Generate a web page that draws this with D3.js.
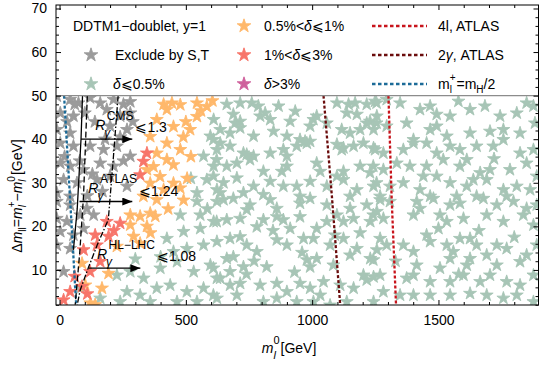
<!DOCTYPE html>
<html lang="en">
<head>
<meta charset="UTF-8">
<title>DDTM1 doublet</title>
<script src="https://d3js.org/d3.v7.min.js"></script>
<style>
body,html{margin:0;padding:0;background:#fff;}
text{font-family:"Liberation Sans",Arial,Helvetica,sans-serif;fill:#000;}
.tick text{font-size:14px;font-family:"Liberation Sans",Arial,sans-serif;}
.legend-text{font-size:14px;}
</style>
</head>
<body>
<script>
// ---- data (m_l^0 [GeV], delta m [GeV]) ----
var grayPts = [[-11,49.9],[42,49.1],[75,48.3],[121,49.5],[161,48.3],[214,49.1],[253,48],[280,48.6],
  [3,46],[55,45.3],[187,46.8],[240,45.3],[280,46],[290,44],[100,46],[140,44],[30,44],[60,48],
  [-11,42.2],[42,41.4],[200,43],[267,42.2],[240,40.5],[180,40],
  [3,39.1],[55,38.4],[121,38.4],[174,37.6],[227,38.4],[280,36.1],[20,36],[80,35],
  [3,34.5],[42,33.8],[95,33],[161,34.5],[214,33.8],[253,35],[130,32],
  [16,30.7],[69,30],[148,30.7],[200,31.5],[267,29.2],[170,28],[110,27],
  [-11,27.7],[42,26.9],[-11,25.7],[42,24.9],[108,24.1],[135,22.6],
  [-11,21.8],[29,21.1],[82,22.6],[3,18.8],[55,18],[95,19.5],[-11,15.7],[42,14.9],[16,9.6]];

var greenPts = [
  // 600-1250, upper half
  [662,48],[715,48.3],[761,48.3],[787,47.6],[867,47.6],[933,46.4],[1005,44.5],[1098,48.3],[1144,48],[1170,48.3],[1216,48],[1249,48.7],
  [688,45.7],[715,44.1],[794,45.3],[814,46],[834,44.5],[913,44.1],[1018,45.3],[992,43],[1058,43.7],[1137,46],[1177,45.7],[1229,44.1],[1256,45.3],
  [636,42.2],[675,41.4],[715,42.6],[768,40.7],[847,41.8],[900,40.7],[952,39.9],[979,39.1],[992,39.5],[1117,42.2],[1150,41.4],[1190,42.2],[1243,42.2],
  [609,39.9],[636,39.1],[675,38.4],[728,36.8],[768,36.1],[834,36.8],[886,37.6],[939,38.4],[1098,38.8],[1124,38],[1164,38.4],[1203,39.1],[1243,38],
  [622,35.3],[662,33.8],[702,34.5],[754,35.3],[807,32.6],[880,32.6],[900,33.8],[1018,34.5],[1032,32.6],[1098,31.5],[1124,32.6],[1190,33.8],[1229,32.3],
  [609,31.5],[649,30],[702,31.1],[768,29.2],[834,30.3],[886,29.2],[939,29.2],[992,30.3],[1058,29.2],[1124,30.7],[1177,28.4],[1243,29.2],
  [636,27.7],[728,27.7],[807,27.3],[952,26.9],[1150,26.9],
  [695,43.7],[741,36.5],[1117,37.6],[972,39.5],[1216,43.7],[900,36.1],
  // 600-1250, lower half
  [649,26.1],[688,26.4],[754,24.9],[741,23.8],[834,26.1],[860,24.1],[952,25.3],[992,26.4],[1058,24.9],[1098,22.6],[1150,24.1],[1216,24.9],[1256,23.4],
  [622,21.1],[662,21.5],[715,21.8],[781,19.9],[807,21.5],[860,22.2],[886,21.5],[952,22.2],[1018,19.5],[913,19.5],[1058,21.1],[1124,21.1],[1164,21.8],[1230,21.1],
  [675,17.2],[715,17.6],[741,15.7],[781,14.2],[860,16.9],[900,15.7],[966,17.2],[1005,17.2],[1071,15.7],[1124,17.2],[1177,14.9],[1230,12.6],[1256,14.6],
  [609,10.4],[662,12.6],[688,13],[675,9.6],[728,10.7],[820,10.7],[979,12.3],[992,10.7],[1018,12.6],[1084,11.1],[1150,13.4],[1203,8.8],[1243,8.4],
  [636,8.1],[675,6.5],[715,6.9],[794,6.5],[860,6.9],[900,5],[952,6.9],[992,5.8],[1045,7.3],[1032,4.2],[1111,6.5],[1164,5.8],[1216,7.7],
  [609,4.2],[702,4.2],[807,2.7],[860,3.5],[939,2.7],[1005,2.7],[1071,1.9],[1137,2.7],[1243,2.7],
  [740,9],[770,12],[930,9.5],[960,14],[845,19],[1090,18],[1190,18.5],
  // 1250-1900, upper half
  [1255,48.3],[1295,49.1],[1348,48.3],[1427,46.8],[1467,47.6],[1493,45.7],[1546,45.3],[1579,48.7],[1625,46.8],[1684,47.6],[1744,45.3],[1810,46],[1876,47.6],[1849,48.3],
  [1255,43.7],[1295,43],[1374,43.7],[1401,39.9],[1467,42.2],[1493,43],[1533,40.7],[1625,41.4],[1704,41.8],[1757,42.2],[1823,41.4],[1882,43.7],
  [1249,37.6],[1282,36.8],[1361,37.6],[1401,39.1],[1453,39.1],[1493,36.8],[1546,38.4],[1585,37.6],[1651,38.4],[1717,38.4],[1757,39.9],[1823,36.8],[1876,37.6],
  [1242,33.8],[1282,33],[1335,34.5],[1387,33.8],[1453,33.8],[1519,35.3],[1585,33.8],[1612,35.3],[1665,32.3],[1704,33],[1783,33],[1849,34.5],[1889,31.5],
  [1255,30],[1308,29.2],[1361,30],[1427,28.4],[1493,31.5],[1546,30],[1612,29.2],[1638,30.7],[1691,30.7],[1757,28.4],[1810,29.2],[1863,28.4],
  [1269,26.9],[1467,26.9],[1572,26.9],[1651,26.9],[1770,26.9],
  // 1250-1900, lower half
  [1269,26.1],[1308,25.7],[1414,25.7],[1480,26.4],[1546,24.9],[1585,25.3],[1678,26.4],[1731,24.9],[1797,25.7],[1849,24.1],[1889,24.9],
  [1242,22.6],[1282,21.8],[1401,22.6],[1427,24.1],[1506,22.6],[1533,21.1],[1599,21.8],[1691,22.6],[1757,21.1],[1836,22.6],[1876,20.3],
  [1269,17.2],[1295,15.7],[1361,15.7],[1401,14.2],[1453,18],[1467,16.5],[1533,15.7],[1585,17.2],[1625,17.2],[1651,15.7],[1691,13.4],[1731,15.7],[1770,14.9],[1849,13.4],[1889,15.7],
  [1242,12.3],[1414,11.1],[1506,10.4],[1546,12.6],[1559,14.2],[1612,11.1],[1625,12.6],[1731,11.1],[1823,11.9],[1876,8.8],
  [1269,8.8],[1374,8.1],[1401,8.8],[1467,7.3],[1546,7.3],[1599,8.8],[1665,7.3],[1704,8.8],[1770,7.3],[1823,6.5],
  [1282,5],[1401,4.2],[1467,4.2],[1546,4.2],[1625,4.6],[1691,4.2],[1757,3.5],[1810,4.2],[1876,2.7],[1348,4.2],
  [1330,12],[1500,19.5],[1660,19],[1800,17.5],[1580,9],[1440,31.5],[1720,35.5],
  // 0-620
  [610,44.5],[597,40.7],[623,37.6],[570,36.1],[610,33.8],[583,30.7],[623,28.4],[544,27.7],
  [425,17.2],[491,18.8],[557,19.5],[610,21.1],[623,25.7],[544,25.7],[570,15.7],[504,14.9],[451,14.2],[623,16.5],
  [227,8.8],[280,9.6],[333,8.1],[399,10.4],[465,11.9],[531,9.6],[597,11.1],[623,8.1],
  [267,5],[319,4.2],[385,5.8],[438,6.5],[504,5],[570,5.8],[623,3.5],[82,5.8],[161,3.5],[240,2.7],[359,2.7],[465,2.7],[544,2.7],
  [478,22.6],[557,22.6],[520,31],[585,24],[400,13],[300,12.5]];

var orangePts = [[445,48.3],[478,47.9],[425,46.8],[544,48.3],[583,47.5],[605,48.8],[560,46.5],[412,48],[385,44.5],[451,42.9],
  [544,45.2],[517,42.2],[500,44],[359,40.6],[425,39.1],[478,37.6],[490,40.5],[385,36.8],[425,35.3],[451,34.1],[520,36],
  [372,33.7],[346,33],[398,31.4],[451,29.9],[478,28.8],[505,31],[359,29.9],[412,28.4],[332,26.9],[385,26.1],[491,26],
  [359,23],[280,22.6],[319,22.3],[379,22.3],[280,20.3],[346,20],[293,17.7],[319,16.1],[227,15.4],[89,11.5],[194,9.2],
  [168,5.8],[141,2],[102,6.5],[122,2.4],[430,24],[360,18.5]];

var redPts = [[346,36.8],[332,34.9],[319,31.8],[187,21.1],[240,20.7],[141,18],[194,17.7],[148,15.7],[95,14.6],[161,11.9],
  [121,9.6],[42,5],[16,3.1],[89,6.2],[60,8.5],[215,19],[110,4.5]];

var pinkPts = [];

// exclusion curves
var line4l = [[1302,50],[1315,26],[1332,2]];
var line2g = [[1045,50],[1078,27],[1111,2]];
var lineMh = [[18,50],[66,2]];
var lineCMS = [[91,50],[85,40],[70,24],[55,14.6]];
var lineATLAS = [[110,50],[95,27],[80,14],[62,2]];
var lineHL = [[232,50],[212,35],[193,21.5],[149,15.7],[114,10.5],[82,5.4],[70,2]];
var arrows = [[[85,40],[288,40]], [[79,25.7],[288,25.7]], [[115,10.4],[320,10.4]]];
// label anchors: "R" position and position of the bound value
var rLabels = [{pos:[141,42.2], valPos:[262,41.6], sup:"CMS", val:"1.3"},
               {pos:[114,27.7], valPos:[284,27.0], sup:"ATLAS", val:"1.24"},
               {pos:[148,12.6], valPos:[379,12.0], sup:"HL\u2212LHC", val:"1.08"}];

var xMajor = [0,500,1000,1500];
var yMajor = [10,20,30,40,50,60,70];

var W = 540, H = 366;
var margin = {top:5, right:1.5, bottom:61, left:56};

var svg = d3.select("body").append("svg").attr("width", W).attr("height", H);

var x = d3.scaleLinear().domain([-14, 1896]).range([margin.left, W - margin.right]);
var y = d3.scaleLinear().domain([1.95, 70.8]).range([H - margin.bottom, margin.top]);

var xMinor = d3.range(0, 1900, 100).filter(function(v){ return xMajor.indexOf(v) < 0; });
var yMinor = d3.range(2, 71, 2).filter(function(v){ return yMajor.indexOf(v) < 0; });

svg.append("clipPath").attr("id", "clip")
  .append("rect")
  .attr("x", x.range()[0]).attr("y", y(50))
  .attr("width", x.range()[1] - x.range()[0]).attr("height", y.range()[0] - y(50));

var plot = svg.append("g").attr("clip-path", "url(#clip)");

var star = d3.symbol().type(d3.symbolStar).size(52);

function stars(pts, color) {
  plot.append("g").selectAll("path").data(pts).enter().append("path")
    .attr("d", star)
    .attr("transform", function(d){ return "translate(" + x(d[0]) + "," + y(d[1]) + ")"; })
    .attr("fill", color).attr("stroke", color).attr("stroke-width", 0.9).attr("stroke-linejoin", "round");
}
stars(grayPts, "#9b9b9b");
stars(greenPts, "#a7c5b6");
stars(orangePts, "#ffb86b");
stars(redPts, "#f7756a");
stars(pinkPts, "#cf609c");

var line = d3.line().x(function(d){ return x(d[0]); }).y(function(d){ return y(d[1]); });

function curve(pts, color, dash, w) {
  plot.append("path").datum(pts).attr("d", line)
    .attr("fill", "none").attr("stroke", color).attr("stroke-width", w)
    .attr("stroke-dasharray", dash);
}
curve(line2g, "#6b0c0c", "3,2", 2.3);
curve(line4l, "#c8141c", "3,2", 2.3);
curve(lineMh, "#1c6b98", "3,2", 2.3);
curve(lineCMS, "#000", null, 1.3);
curve(lineATLAS, "#000", "6,3", 1.3);
curve(lineHL, "#000", "6,2,1.5,2", 1.3);

svg.append("defs").append("marker").attr("id", "arrow")
  .attr("viewBox", "0 0 10 8").attr("refX", 10).attr("refY", 4)
  .attr("markerWidth", 10).attr("markerHeight", 8).attr("markerUnits", "userSpaceOnUse")
  .attr("orient", "auto")
  .append("path").attr("d", "M0,0L10,4L0,8Z").attr("fill", "#000");

svg.append("g").selectAll("line").data(arrows).enter().append("line")
  .attr("x1", function(d){ return x(d[0][0]); }).attr("y1", function(d){ return y(d[0][1]); })
  .attr("x2", function(d){ return x(d[1][0]); }).attr("y2", function(d){ return y(d[1][1]); })
  .attr("stroke", "#000").attr("stroke-width", 1.3).attr("marker-end", "url(#arrow)");

// R_gamma labels
rLabels.forEach(function(l){
  var x0 = x(l.pos[0]), y0 = y(l.pos[1]);
  var g = svg.append("g");
  var r = g.append("text").attr("x", x0).attr("y", y0).style("font-size", "14px").style("font-style", "italic").text("R");
  var rw = r.node().getComputedTextLength();
  var s = g.append("text").attr("x", x0 + rw + 1.5).attr("y", y0 - 10).style("font-size", "12px").text(l.sup);
  g.append("text").attr("x", x0 + rw - 1).attr("y", y0 + 7).style("font-size", "12px").style("font-style", "italic").text("\u03b3");
  var supEnd = x0 + rw + 1.5 + s.node().getComputedTextLength();
  g.append("text").attr("x", Math.max(x(l.valPos[0]), supEnd + 2)).attr("y", y(l.valPos[1]))
    .style("font-size", "14px").text("\u2a7d" + l.val);
});

// separator at 50
svg.append("line").attr("x1", x.range()[0]).attr("x2", x.range()[1]).attr("y1", y(50)).attr("y2", y(50))
  .attr("stroke", "#8c8c8c").attr("stroke-width", 1.4);

// axes with inward ticks on all sides
function axis(gen, transform, size, labels, pad) {
  var g = svg.append("g").attr("transform", transform)
    .call(gen.tickSize(size).tickPadding(pad || 3));
  g.select(".domain").remove();
  g.selectAll(".tick line").attr("stroke", "#000");
  if (!labels) g.selectAll(".tick text").remove();
  return g;
}
var bottomY = y.range()[0], topY = y.range()[1], leftX = x.range()[0], rightX = x.range()[1];
axis(d3.axisBottom(x).tickValues(xMajor).tickFormat(d3.format("d")), "translate(0," + bottomY + ")", -5, true, 10);
axis(d3.axisBottom(x).tickValues(xMinor), "translate(0," + bottomY + ")", -3, false);
axis(d3.axisTop(x).tickValues(xMajor), "translate(0," + topY + ")", -5, false);
axis(d3.axisTop(x).tickValues(xMinor), "translate(0," + topY + ")", -3, false);
axis(d3.axisLeft(y).tickValues(yMajor).tickFormat(d3.format("d")), "translate(" + leftX + ",0)", -5, true, 9);
axis(d3.axisLeft(y).tickValues(yMinor), "translate(" + leftX + ",0)", -3, false);
axis(d3.axisRight(y).tickValues(yMajor), "translate(" + rightX + ",0)", -5, false);
axis(d3.axisRight(y).tickValues(yMinor), "translate(" + rightX + ",0)", -3, false);

svg.append("rect").attr("x", leftX).attr("y", topY).attr("width", rightX - leftX).attr("height", bottomY - topY)
  .attr("fill", "none").attr("stroke", "#000").attr("stroke-width", 1);

// small helper: lay out text pieces (with stacked sub/superscripts) left to right
function layout(g, pieces) {
  var cx = 0;
  pieces.forEach(function(p){
    var items = p.stack ? p.stack : [p];
    var wmax = 0;
    items.forEach(function(q){
      var t = g.append("text").attr("x", cx).attr("y", q.dy || 0)
        .style("font-size", (q.size || 14) + "px").style("font-style", q.it ? "italic" : "normal").text(q.t);
      wmax = Math.max(wmax, t.node().getComputedTextLength());
    });
    cx += wmax + (p.gap || 0);
  });
  return cx;
}

// legend
var leg = svg.append("g").attr("class", "legend-text");
leg.append("text").attr("x", 73).attr("y", 31).text("DDTM1\u2212doublet, y=1");
var legStar = d3.symbol().type(d3.symbolStar).size(58);
var legStars = [
  {cx:91, cy:55, c:"#9b9b9b", t:[["Exclude by S,T", false]], tx:115},
  {cx:91, cy:84, c:"#a7c5b6", t:[["\u03b4", true], ["\u2a7d0.5%", false]], tx:113},
  {cx:244, cy:26, c:"#ffb86b", t:[["0.5%<", false], ["\u03b4", true], ["\u2a7d1%", false]], tx:264},
  {cx:244, cy:55, c:"#f7756a", t:[["1%<", false], ["\u03b4", true], ["\u2a7d3%", false]], tx:264},
  {cx:244, cy:84, c:"#cf609c", t:[["\u03b4", true], [">3%", false]], tx:264}];
legStars.forEach(function(s){
  leg.append("path").attr("d", legStar).attr("transform", "translate(" + s.cx + "," + s.cy + ")")
    .attr("fill", s.c).attr("stroke", s.c).attr("stroke-width", 0.9).attr("stroke-linejoin", "round");
  var t = leg.append("text").attr("x", s.tx).attr("y", s.cy + 5);
  s.t.forEach(function(p){ t.append("tspan").style("font-style", p[1] ? "italic" : "normal").text(p[0]); });
});
var legLines = [{cy:26, c:"#c8141c", t:"4l, ATLAS"}, {cy:55, c:"#6b0c0c", t:"2\u03b3, ATLAS"}];
legLines.forEach(function(l){
  leg.append("line").attr("x1", 372).attr("x2", 427).attr("y1", l.cy).attr("y2", l.cy)
    .attr("stroke", l.c).attr("stroke-width", 2.3).attr("stroke-dasharray", "3.5,2.5");
  var t = leg.append("text").attr("x", 438).attr("y", l.cy + 5);
  if (l.t.indexOf("\u03b3") > 0) {
    t.append("tspan").text("2");
    t.append("tspan").style("font-style", "italic").text("\u03b3");
    t.append("tspan").text(", ATLAS");
  } else t.text(l.t);
});
leg.append("line").attr("x1", 372).attr("x2", 427).attr("y1", 84).attr("y2", 84)
  .attr("stroke", "#1c6b98").attr("stroke-width", 2.3).attr("stroke-dasharray", "3.5,2.5");
var mh = leg.append("g").attr("transform", "translate(438,89)");
layout(mh, [{t:"m"}, {stack:[{t:"+", size:10, dy:-8}, {t:"l", size:10, dy:4}], gap:1},
  {t:"=m"}, {t:"H", size:10, dy:4}, {t:"/2"}]);

// axis titles
var xt = svg.append("g");
var xw = layout(xt, [{t:"m", it:true}, {stack:[{t:"0", size:11, dy:-9}, {t:"l", size:11, it:true, dy:6}], gap:1}, {t:"[GeV]"}]);
xt.attr("transform", "translate(" + (289 - xw / 2) + ",353)");

var yt = svg.append("g");
var yw = layout(yt, [{t:"\u0394"}, {t:"m", it:true}, {t:"ll", size:10, dy:4},
  {t:"="}, {t:"m", it:true}, {stack:[{t:"+", size:10, dy:-7}, {t:"l", size:10, it:true, dy:4}]},
  {t:"\u2212"}, {t:"m", it:true}, {stack:[{t:"0", size:10, dy:-7}, {t:"l", size:10, it:true, dy:4}], gap:1}, {t:"[GeV]"}]);
yt.attr("transform", "translate(22," + (196 + yw / 2) + ") rotate(-90)");
</script>
</body>
</html>
